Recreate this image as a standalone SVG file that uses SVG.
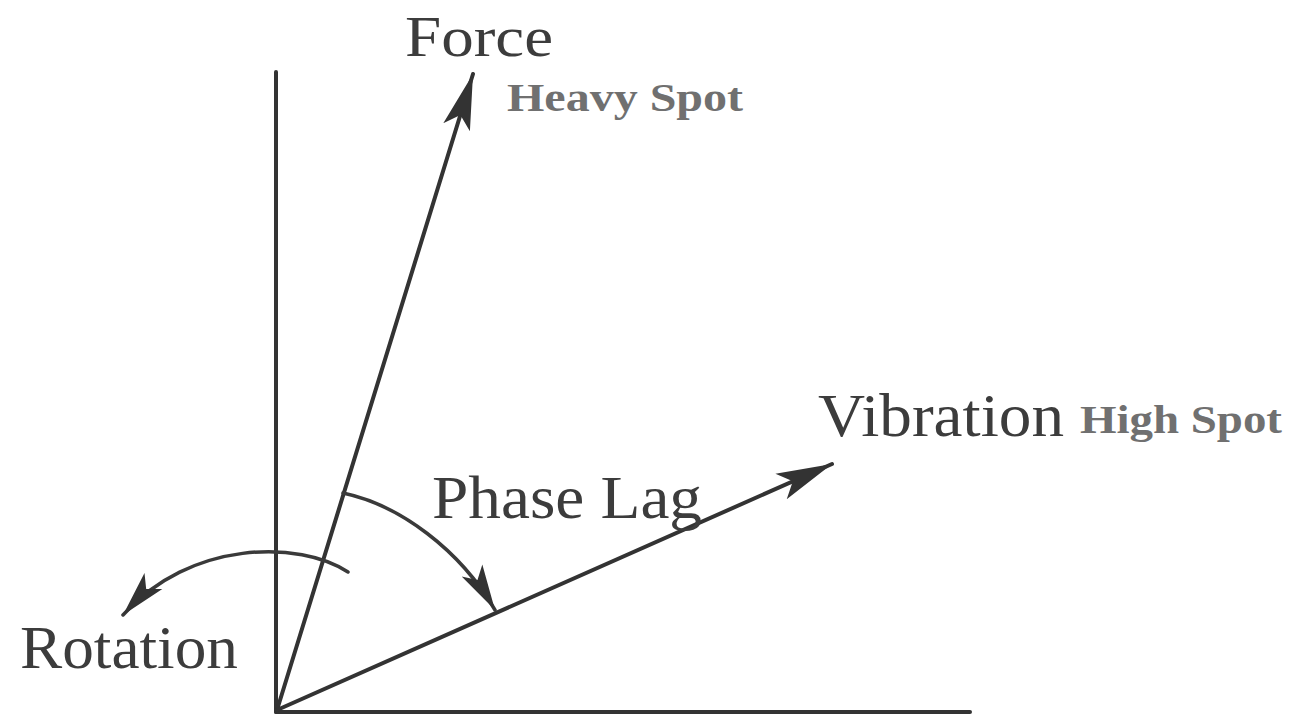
<svg xmlns="http://www.w3.org/2000/svg" width="1291" height="718" viewBox="0 0 1291 718">
  <style>
    .ln { stroke:#333; stroke-width:4; fill:none; stroke-linecap:round; }
    .arc { stroke:#3a3a3a; stroke-width:3.5; fill:none; stroke-linecap:round; }
    .big { font-family:"Liberation Serif","Times New Roman",serif; font-size:62px; fill:#3c3c3c; }
    .sub { font-family:"Liberation Serif","Times New Roman",serif; font-size:40px; font-weight:bold; fill:#707070; }
  </style>
  <defs>
    <marker id="ahBig" markerUnits="userSpaceOnUse" markerWidth="60" markerHeight="40" viewBox="-52 -16 56 32" refX="0" refY="0" orient="auto">
      <path d="M0,0 L-52,-13 L-40,0 L-52,13 Z" fill="#333"/>
    </marker>
    <marker id="ahSmall" markerUnits="userSpaceOnUse" markerWidth="50" markerHeight="34" viewBox="-42 -14 46 28" refX="0" refY="0" orient="auto">
      <path d="M0,0 L-42,-11 L-32,0 L-42,11 Z" fill="#333"/>
    </marker>
  </defs>
  <rect width="1291" height="718" fill="#fff"/>
  <g id="connectors">
    <line id="y-axis" class="ln" x1="276" y1="72" x2="276" y2="712" stroke-width="5"/>
    <line id="x-axis" class="ln" x1="276" y1="712" x2="970" y2="712" stroke-width="5" stroke-linecap="butt"/>
    <line id="force-vec" class="ln" x1="277" y1="710" x2="473" y2="74" marker-end="url(#ahBig)"/>
    <line id="vib-vec" class="ln" x1="277" y1="710" x2="832" y2="464" marker-end="url(#ahBig)"/>
    <path id="phase-arc" class="arc" d="M343,493 C400,505 460,550 495,610" marker-end="url(#ahSmall)"/>
    <path id="rot-arc" class="arc" d="M348,572 C300,540 190,540 123,615" marker-end="url(#ahSmall)"/>
  </g>
  <g id="force-label">
    <text class="big" x="405" y="56" font-size="58" textLength="148" lengthAdjust="spacingAndGlyphs" style="font-size:58px">Force</text>
    <text class="sub" x="507" y="111" textLength="236" lengthAdjust="spacingAndGlyphs">Heavy Spot</text>
  </g>
  <g id="vibration-label">
    <text class="big" x="818" y="436" textLength="246" lengthAdjust="spacingAndGlyphs">Vibration</text>
    <text class="sub" x="1080" y="433" textLength="202" lengthAdjust="spacingAndGlyphs">High Spot</text>
  </g>
  <g id="phase-label">
    <text class="big" x="432" y="518" textLength="270" lengthAdjust="spacingAndGlyphs">Phase Lag</text>
  </g>
  <g id="rotation-label">
    <text class="big" x="20" y="668" textLength="218" lengthAdjust="spacingAndGlyphs">Rotation</text>
  </g>
</svg>
